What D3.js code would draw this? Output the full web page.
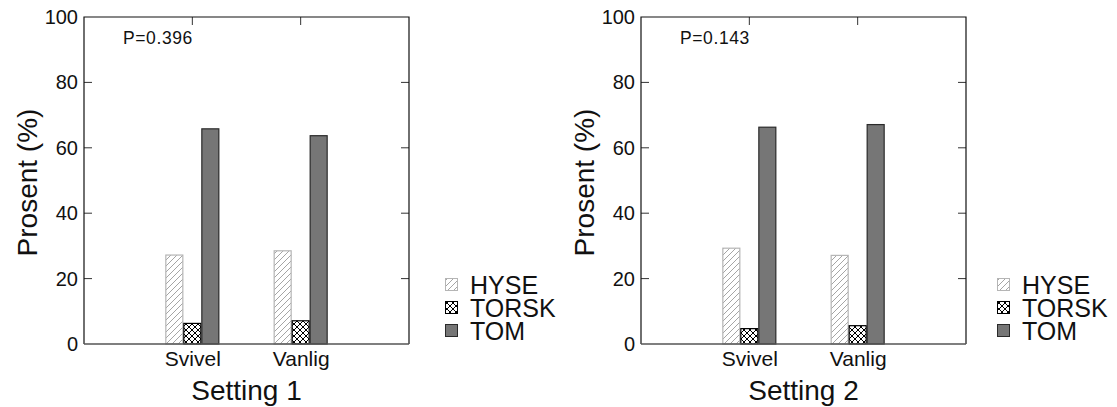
<!DOCTYPE html>
<html>
<head>
<meta charset="utf-8">
<script src="https://cdn.jsdelivr.net/npm/d3@7"></script>
<style>
  html, body { margin: 0; padding: 0; background: #fff; }
  svg { display: block; font-family: "Liberation Sans", Arial, sans-serif; }
</style>
</head>
<body>
<svg id="chart" width="1117" height="407"></svg>
<script>
// Catch composition (%) per hook type, two settings
const categories = ["Svivel", "Vanlig"];
const series = ["HYSE", "TORSK", "TOM"];
const yTicks = [0, 20, 40, 60, 80, 100];
const settingTitles = ["Setting 1", "Setting 2"];
const pValues = ["P=0.396", "P=0.143"];

const setting1HYSE = [27.2, 28.5];
const setting1TORSK = [6.3, 7.1];
const setting1TOM = [65.8, 63.7];

const setting2HYSE = [29.3, 27.1];
const setting2TORSK = [4.7, 5.6];
const setting2TOM = [66.3, 67.1];

const settings = [
  { HYSE: setting1HYSE, TORSK: setting1TORSK, TOM: setting1TOM },
  { HYSE: setting2HYSE, TORSK: setting2TORSK, TOM: setting2TOM }
];

const svg = d3.select("#chart");
const defs = svg.append("defs");

// diagonal hatch for HYSE
const hatch = defs.append("pattern")
  .attr("id", "hatch").attr("patternUnits", "userSpaceOnUse")
  .attr("width", 6).attr("height", 6);
hatch.append("rect").attr("width", 6).attr("height", 6).attr("fill", "#fff");
hatch.append("path").attr("d", "M-1,1 L1,-1 M0,6 L6,0 M5,7 L7,5")
  .attr("stroke", "#a5a5a5").attr("stroke-width", 1);

// cross hatch for TORSK
const cross = defs.append("pattern")
  .attr("id", "cross").attr("patternUnits", "userSpaceOnUse")
  .attr("width", 6).attr("height", 6);
cross.append("rect").attr("width", 6).attr("height", 6).attr("fill", "#fff");
cross.append("path").attr("d", "M0,0 L6,6 M0,6 L6,0")
  .attr("stroke", "#000").attr("stroke-width", 1);

const style = {
  HYSE: { fill: "url(#hatch)", stroke: "#b5b5b5" },
  TORSK: { fill: "url(#cross)", stroke: "#000" },
  TOM: { fill: "#767676", stroke: "#2a2a2a" }
};

const panels = [
  { left: 84, legendX: 445 },
  { left: 641, legendX: 997 }
];
const plotW = 325, plotTop = 17, plotBottom = 344;

panels.forEach((p, i) => {
  const data = settings[i];
  const right = p.left + plotW;
  const g = svg.append("g");

  const y = d3.scaleLinear().domain([0, 100]).range([plotBottom, plotTop]);
  const x0 = d3.scalePoint().domain(categories).range([p.left, right]).padding(1);
  const x1 = d3.scaleBand().domain(series).range([-27, 27]);

  // bars
  categories.forEach((c, ci) => {
    g.selectAll(null).data(series).enter().append("rect")
      .attr("x", s => x0(c) + x1(s) + 0.5)
      .attr("y", s => y(data[s][ci]))
      .attr("width", x1.bandwidth() - 1)
      .attr("height", s => plotBottom - y(data[s][ci]))
      .attr("fill", s => style[s].fill)
      .attr("stroke", s => style[s].stroke)
      .attr("stroke-width", 1.2);
  });

  // left axis labels
  const yAxis = g.append("g").attr("transform", `translate(${p.left},0)`)
    .call(d3.axisLeft(y).tickValues(yTicks).tickSize(0).tickPadding(6));
  yAxis.select(".domain").remove();
  yAxis.selectAll("text").attr("font-size", 20).attr("fill", "#111")
    .attr("font-family", "Liberation Sans, Arial, sans-serif");

  // inward tick marks on left, right and top edges
  const tickMarks = g.append("g").attr("stroke", "#333").attr("stroke-width", 1);
  yTicks.filter(t => t > 0 && t < 100).forEach(t => {
    tickMarks.append("line").attr("x1", p.left).attr("x2", p.left + 8)
      .attr("y1", y(t)).attr("y2", y(t));
    tickMarks.append("line").attr("x1", right).attr("x2", right - 8)
      .attr("y1", y(t)).attr("y2", y(t));
  });
  categories.forEach(c => {
    tickMarks.append("line").attr("x1", x0(c)).attr("x2", x0(c))
      .attr("y1", plotTop).attr("y2", plotTop + 8);
  });

  // bottom axis labels
  const xAxis = g.append("g").attr("transform", `translate(0,${plotBottom})`)
    .call(d3.axisBottom(x0).tickSize(0).tickPadding(7));
  xAxis.select(".domain").remove();
  xAxis.selectAll("text").attr("font-size", 21).attr("fill", "#111")
    .attr("font-family", "Liberation Sans, Arial, sans-serif");

  // frame
  g.append("path")
    .attr("d", `M${p.left},${plotBottom} L${p.left},${plotTop} L${right},${plotTop} L${right},${plotBottom}`)
    .attr("fill", "none").attr("stroke", "#111").attr("stroke-width", 1.2);
  g.append("line").attr("x1", p.left).attr("x2", right)
    .attr("y1", plotBottom).attr("y2", plotBottom)
    .attr("stroke", "#555").attr("stroke-width", 1.4);

  // titles
  g.append("text").attr("x", p.left + plotW / 2).attr("y", 400)
    .attr("text-anchor", "middle").attr("font-size", 28).attr("fill", "#111")
    .text(settingTitles[i]);
  g.append("text")
    .attr("transform", `translate(${p.left - 47},${(plotTop + plotBottom) / 2 + 2}) rotate(-90)`)
    .attr("text-anchor", "middle").attr("font-size", 28).attr("fill", "#111")
    .text("Prosent (%)");
  g.append("text").attr("x", p.left + 39).attr("y", 44)
    .attr("font-size", 17.5).attr("letter-spacing", 0.6).attr("fill", "#111")
    .text(pValues[i]);

  // legend
  const lg = g.append("g");
  series.forEach((s, si) => {
    const ly = 278 + si * 23;
    lg.append("rect").attr("x", p.legendX + 0.5).attr("y", ly + 0.5)
      .attr("width", 12).attr("height", 12)
      .attr("fill", style[s].fill).attr("stroke", style[s].stroke).attr("stroke-width", 1);
    lg.append("text").attr("x", p.legendX + 25).attr("y", ly + 15.5)
      .attr("font-size", 25).attr("fill", "#111").text(s);
  });
});
</script>
</body>
</html>
